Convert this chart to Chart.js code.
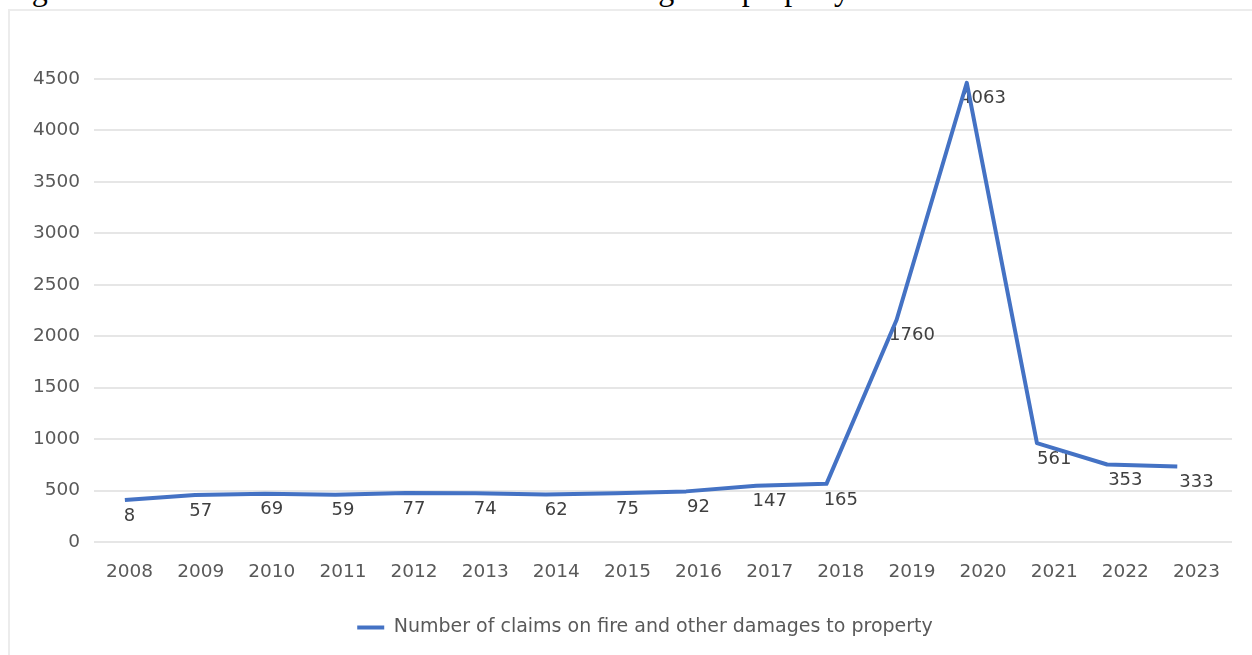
<!DOCTYPE html>
<html>
<head>
<meta charset="utf-8">
<title>Number of claims on fire and other damages to property</title>
<script src="https://cdn.jsdelivr.net/npm/chart.js@4/dist/chart.umd.min.js"></script>
<style>
  html, body { margin: 0; padding: 0; background: #fff; overflow: hidden; }
  body { width: 1252px; height: 655px; position: relative; }
  #caption {
    position: absolute; left: 5px; top: -27px;
    font: 32px/32px "Liberation Serif", "Times New Roman", serif;
    color: #000; white-space: nowrap;
  }
  #frame {
    position: absolute; left: 8px; top: 9px; width: 1300px; height: 700px;
    border: 2px solid #ececec; box-sizing: border-box;
  }
  #chart { position: absolute; left: 0; top: 0; }
</style>
</head>
<body>
<div id="caption">Figure 1: Number of claims on fire and other damages to property</div>
<div id="frame"></div>
<canvas id="chart" width="1252" height="655"></canvas>
<script>
// Data
const years = ["2008", "2009", "2010", "2011", "2012", "2013", "2014", "2015",
               "2016", "2017", "2018", "2019", "2020", "2021", "2022", "2023"];
const claims = [8, 57, 69, 59, 77, 74, 62, 75, 92, 147, 165, 1760, 4063, 561, 353, 333];
const yTicks = [0, 500, 1000, 1500, 2000, 2500, 3000, 3500, 4000, 4500];
const seriesName = "Number of claims on fire and other damages to property";

const FONT = "DejaVu Sans";
const axisGrey = "#595959";
const lineBlue = "#4472C4";

// the original picture has its line drawn slightly off the axes,
// so the series sits on two hidden axes that reproduce that offset
const pointLabels = {
  id: "pointLabels",
  afterLayout(chart) {
    // legend in the original is centred a little right of the canvas middle
    chart.legend.left += 14;
    chart.legend.right += 14;
  },
  beforeDatasetsDraw(chart) {
    const { ctx, scales } = chart;
    ctx.save();
    ctx.font = `18px "${FONT}"`;
    ctx.fillStyle = "#404040";
    ctx.textAlign = "center";
    ctx.textBaseline = "middle";
    claims.forEach((v, i) => {
      const x = scales.x.getPixelForValue(i);
      const y = scales.yLine.getPixelForValue(v) + 16;
      ctx.fillText(String(v), x, y);
    });
    ctx.restore();
  }
};

const ctx = document.getElementById("chart").getContext("2d");
new Chart(ctx, {
  type: "line",
  data: {
    labels: years,
    datasets: [{
      label: seriesName,
      data: claims,
      xAxisID: "xLine",
      yAxisID: "yLine",
      borderColor: lineBlue,
      backgroundColor: lineBlue,
      borderWidth: 4,
      borderJoinStyle: "round",
      pointRadius: 0,
      tension: 0,
      fill: false
    }]
  },
  options: {
    responsive: false,
    animation: false,
    devicePixelRatio: 1,
    layout: { padding: { left: 30, right: 20, top: 79, bottom: 8 } },
    plugins: {
      tooltip: { enabled: false },
      legend: {
        display: true,
        position: "bottom",
        labels: {
          boxWidth: 27,
          boxHeight: 4,
          padding: 10,
          color: axisGrey,
          font: { family: FONT, size: 19 },
          generateLabels: (chart) =>
            Chart.defaults.plugins.legend.labels.generateLabels(chart)
              .map(l => ({ ...l, lineWidth: 0, fillStyle: lineBlue }))
        }
      }
    },
    scales: {
      x: {
        type: "category",
        offset: true,
        grid: { display: false, drawTicks: false },
        border: { display: false },
        ticks: { color: axisGrey, font: { family: FONT, size: 18.5 }, padding: 19, maxRotation: 0, autoSkip: false },
        afterFit: (s) => { s.height = 66; }
      },
      y: {
        type: "linear",
        min: yTicks[0],
        max: yTicks[yTicks.length - 1],
        afterBuildTicks: (s) => { s.ticks = yTicks.map(v => ({ value: v })); },
        grid: { color: "#e6e6e6", lineWidth: 2, drawTicks: false },
        border: { display: false },
        ticks: {
          color: axisGrey,
          font: { family: FONT, size: 18.5 },
          padding: 14,
          callback: (v) => String(v)
        },
        afterFit: (s) => { s.width = 64; }
      },
      xLine: {
        type: "linear",
        display: false,
        position: "bottom",
        min: 2007.56,
        max: 2023.78
      },
      yLine: {
        type: "linear",
        display: false,
        position: "left",
        min: -400,
        max: 4100
      }
    }
  },
  plugins: [pointLabels]
});
</script>
</body>
</html>
